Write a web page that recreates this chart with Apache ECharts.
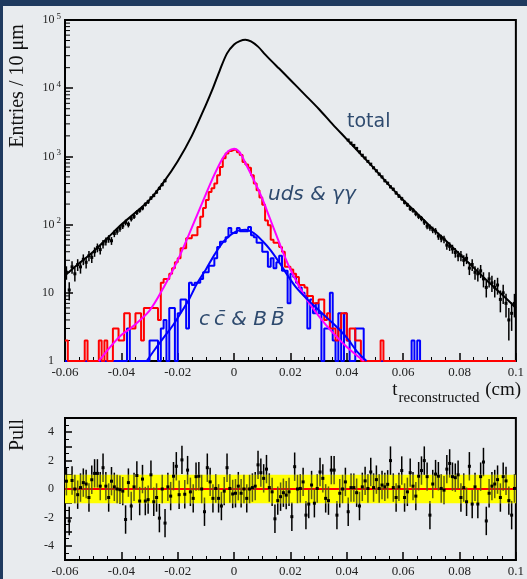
<!DOCTYPE html>
<html>
<head>
<meta charset="utf-8">
<script src="https://cdn.jsdelivr.net/npm/echarts@6/dist/echarts.min.js"></script>
<style>
html,body{margin:0;padding:0;background:#e8ebee;}
#frame{position:absolute;left:0;top:0;width:527px;height:579px;background:#e8ebee;border-top:6px solid #1f3a5f;border-left:3px solid #1f3a5f;box-sizing:border-box;}
#chart{position:absolute;left:0;top:0;width:527px;height:579px;}
</style>
</head>
<body>
<div id="frame"></div>
<div id="chart"></div>
<script>
// binning: 10 um bins from -0.06 to 0.1 cm
const X_MIN = -0.06, X_MAX = 0.1, BIN = 0.001;

// uds & gamma-gamma histogram (160 bins)
const udsCounts = [
  2,0,0,0,0,0,0,2,0,0,
  0,0,2,0,2,0,0,3,3,2,
  2,5,5,3,3,5,5,2,6,6,
  6,6,6,4,14,16,16,19,23,28,
  32,45,45,63,63,70,70,92,130,175,
  230,300,340,400,530,700,940,1100,1200,1250,
  1250,1150,1050,830,760,680,530,400,320,250,
  195,115,98,60,54,54,47,40,24,24,
  22,19,17,13,13,12,9,9,7,7,
  8,8,4,5,3,3,2,3,5,5,
  2,3,3,2,2,0,0,0,0,0,
  0,0,2,0,0,0,0,0,0,0,
  0,0,0,0,0,0,0,0,0,0,
  0,0,0,0,0,0,0,0,0,0,
  0,0,0,0,0,0,0,0,0,0,
  0,0,0,0,0,0,0,0,0,0
];

// c cbar & B Bbar histogram (160 bins)
const ccbbCounts = [
  0,0,0,0,0,0,0,0,0,0,
  0,0,0,0,0,0,0,0,0,0,
  0,0,3,0,0,0,0,0,0,0,
  2,2,2,0,3,4,0,6,6,0,
  5,8,8,3,14,13,14,14,16,20,
  20,25,25,32,47,56,56,65,89,75,
  75,89,80,80,80,92,70,65,54,54,
  40,40,24,32,23,28,35,21,21,7,
  19,17,14,12,10,9,3,8,5,7,
  5,0,3,3,10,2,0,5,0,5,
  2,0,0,3,3,3,0,0,0,0,
  0,0,0,0,0,0,0,0,0,0,
  0,0,0,2,0,2,0,0,0,0,
  0,0,0,0,0,0,0,0,0,0,
  0,0,0,0,0,0,0,0,0,0,
  0,0,0,0,0,0,0,0,0,0
];

// total data where it leaves the fit curve: bins 0-35 and 100-159
const totalLeftStart = 0;
const totalLeft = [
  20,11,24,19,26,24,31,28,35,33,
  40,46,43,52,57,62,58,74,80,88,
  96,108,101,122,132,150,162,175,198,216,
  245,268,300,340,385,440
];
const totalRightStart = 100;
const totalRight = [
  1740,1570,1450,1310,1170,1040,950,845,770,680,
  615,550,500,440,405,358,330,292,262,240,
  212,195,172,162,145,132,123,109,95,91,
  84,80,68,63,61,50,48,44,39,35,
  35,30,32,23,26,20,19,21,16,12,
  16,14,12,13,8,10,7,4,5,7
];

// fit curves [t, entries]
const totalFit = [
  [-0.06,18],[-0.055,27],[-0.05,40],[-0.045,63],[-0.04,100],[-0.035,150],[-0.03,230],
  [-0.025,420],[-0.02,850],[-0.015,2000],[-0.01,5700],[-0.0075,10000],[-0.005,18600],
  [-0.0025,32400],[0,43700],[0.002,49000],[0.004,51300],[0.006,48500],[0.0085,40700],
  [0.011,31400],[0.0135,24500],[0.016,19400],[0.02,13200],[0.025,8130],[0.03,5000],[0.035,2950],
  [0.04,1780],[0.045,1070],[0.05,646],[0.055,380],[0.06,229],[0.065,145],[0.07,91],
  [0.075,59],[0.08,37],[0.085,23.4],[0.09,14.8],[0.095,9.5],[0.1,6.0]
];
const udsFit = [
  [-0.048,1],[-0.044,1.6],[-0.04,2.4],[-0.036,3.2],[-0.03,5.5],[-0.025,12],[-0.02,30],
  [-0.015,90],[-0.01,280],[-0.007,540],[-0.004,950],[-0.002,1200],[0,1300],[0.002,1150],
  [0.004,800],[0.007,450],[0.01,240],[0.0125,130],[0.015,70],[0.0175,38],[0.02,22],
  [0.025,9],[0.03,4.6],[0.035,2.6],[0.04,1.6],[0.046,1]
];
const ccbbFit = [
  [-0.031,1],[-0.028,1.5],[-0.025,2.2],[-0.022,3.2],[-0.019,5],[-0.016,8],[-0.013,14],
  [-0.01,22],[-0.007,36],[-0.004,55],[-0.001,72],[0.002,83],[0.004,84],[0.007,75],
  [0.01,58],[0.013,42],[0.016,28],[0.019,18],[0.022,12],[0.026,8],[0.03,5.6],
  [0.035,3.6],[0.04,2.2],[0.0435,1.4],[0.047,1]
];

// pull per bin (160 bins)
const pulls = [
  0.55,-2.25,0.6,0.0,-0.4,0.1,0.45,0.35,-0.6,0.65,
  1.1,1.1,0.2,1.5,0.2,-0.6,0.55,0.15,0.0,-0.05,
  -0.15,-2.15,0.45,-1.2,0.15,0.95,-0.85,0.7,-0.85,-0.75,
  1.0,-0.9,-0.6,-2.05,0.0,-2.4,0.15,-0.5,0.9,1.6,
  -0.4,2.05,-0.37,1.33,-0.2,-0.66,0.87,0.9,0.0,-1.6,
  1.5,0.5,-0.66,0.04,-0.66,-1.2,-0.15,1.5,0.04,-0.35,
  -0.3,0.2,-0.3,0.0,-0.66,0.0,0.1,0.2,1.7,1.15,
  0.75,1.4,0.1,-0.2,-2.1,-0.82,-0.54,-0.26,-0.43,-0.2,
  -1.95,1.57,0.0,0.04,0.5,-1.84,-1.06,0.28,-1.0,0.04,
  1.2,0.75,-0.66,-0.82,1.33,1.33,-1.84,-0.3,0.0,0.5,
  -1.6,0.1,0.1,-0.26,-1.2,0.15,0.57,0.04,1.2,0.1,
  0.66,0.04,0.28,0.15,0.33,2.0,0.1,-0.6,0.15,1.3,
  -0.6,-0.2,1.15,0.2,-0.5,0.9,1.3,2.0,0.87,-1.84,
  0.35,1.05,0.9,0.04,-0.08,1.4,1.8,0.87,0.8,1.0,
  -0.6,0.1,-0.9,1.6,-1.06,0.15,-1.06,0.87,1.9,-2.25,
  -0.3,0.2,0.35,0.66,-0.6,0.87,0.57,-0.82,-1.84,0.04
];
const pullBand = [-1, 1];

const SERIF = '"Liberation Serif","DejaVu Serif",serif';
const SANS = '"DejaVu Sans","Open Sans",sans-serif';
const NOTE = '#2e4a6e';

// histogram as steps on bin edges, empty bins sit on the log axis floor
function stepData(counts) {
  const d = counts.map((c, i) => [X_MIN + i * BIN, Math.max(c, 1)]);
  d.push([X_MIN + counts.length * BIN, Math.max(counts[counts.length - 1], 1)]);
  return d;
}
function centers(vals, start) {
  return vals.map((v, i) => [X_MIN + (start + i + 0.5) * BIN, v]);
}
const totalPoints = centers(totalLeft, totalLeftStart).concat(centers(totalRight, totalRightStart));
const pullPoints = centers(pulls, 0);

// log minor ticks 2..9 per decade
const minorLog = [];
for (let d = 1; d < 100000; d *= 10) for (let m = 2; m <= 9; m++) minorLog.push([X_MIN, m * d]);

function errRender(params, api) {
  const x = api.value(0), y = api.value(1), e = Math.sqrt(y);
  const p0 = api.coord([x, Math.max(y - e, 1)]), p1 = api.coord([x, y + e]), c = api.coord([x, y]);
  return { type: 'group', children: [
    { type: 'line', shape: { x1: p0[0], y1: p0[1], x2: p1[0], y2: p1[1] }, style: { stroke: '#000', lineWidth: 1.5 } },
    { type: 'rect', shape: { x: c[0] - 1.5, y: c[1] - 1.5, width: 3, height: 3 }, style: { fill: '#000' } }
  ]};
}
function pullRender(params, api) {
  const x = api.value(0), v = api.value(1);
  const lo = v - 1, hi = v + 1, kids = [];
  const seg = (a, b, col) => {
    if (b <= a) return;
    const p = api.coord([x, a]), q = api.coord([x, b]);
    kids.push({ type: 'line', shape: { x1: p[0], y1: p[1], x2: q[0], y2: q[1] }, style: { stroke: col, lineWidth: 1.5 } });
  };
  seg(lo, Math.min(hi, pullBand[0]), '#000');
  seg(Math.max(lo, pullBand[0]), Math.min(hi, pullBand[1]), '#5e5e14');
  seg(Math.max(lo, pullBand[1]), hi, '#000');
  const c = api.coord([x, v]);
  kids.push({ type: 'rect', shape: { x: c[0] - 1.5, y: c[1] - 1.5, width: 3, height: 3 }, style: { fill: '#000' } });
  return { type: 'group', children: kids };
}

const xLabel = { fontFamily: SERIF, fontSize: 13, color: '#222', margin: 5,
  formatter: v => String(Math.round(v * 100) / 100) };
function xAxisOf(grid) {
  return {
    type: 'value', gridIndex: grid, min: X_MIN, max: X_MAX, interval: 0.02,
    axisLine: { onZero: false, lineStyle: { color: '#000', width: 2 } },
    axisTick: { inside: true, length: 8, lineStyle: { color: '#000', width: 1.5 } },
    minorTick: { show: true, splitNumber: 4, length: 4, lineStyle: { color: '#000', width: 1 } },
    splitLine: { show: false }, minorSplitLine: { show: false },
    axisLabel: xLabel
  };
}

const option = {
  animation: false,
  grid: [
    { left: 65, top: 20, width: 456, height: 341, show: true, borderColor: '#000', borderWidth: 2, backgroundColor: 'transparent' },
    { left: 65, top: 418, width: 456, height: 142, show: true, borderColor: '#000', borderWidth: 2, backgroundColor: 'transparent' }
  ],
  xAxis: [xAxisOf(0), xAxisOf(1)],
  yAxis: [
    {
      type: 'log', logBase: 10, gridIndex: 0, min: 1, max: 100000,
      axisLine: { show: true, onZero: false, lineStyle: { color: '#000', width: 2 } },
      axisTick: { inside: true, length: 8, lineStyle: { color: '#000', width: 1.5 } },
      splitLine: { show: false },
      axisLabel: {
        margin: 4, color: '#222',
        formatter: v => {
          const e = Math.round(Math.log10(v));
          if (e === 0) return '{b|1}{p| }';
          if (e === 1) return '{b|10}{p| }';
          return '{b|10}{s|' + e + '}';
        },
        rich: {
          b: { fontFamily: SERIF, fontSize: 12, lineHeight: 16, color: '#222' },
          s: { fontFamily: SERIF, fontSize: 9, lineHeight: 9, verticalAlign: 'top', padding: [0, 0, 0, 2], color: '#222' },
          p: { width: 7, fontSize: 9 }
        }
      }
    },
    {
      type: 'value', gridIndex: 1, min: -5, max: 5, interval: 1,
      axisLine: { show: true, onZero: false, lineStyle: { color: '#000', width: 2 } },
      axisTick: { inside: true, length: 7, lineStyle: { color: '#000', width: 1.5 } },
      minorTick: { show: true, splitNumber: 2, length: 4, lineStyle: { color: '#000', width: 1 } },
      splitLine: { show: false }, minorSplitLine: { show: false },
      axisLabel: { margin: 11, fontFamily: SERIF, fontSize: 12, color: '#222',
        formatter: v => (v % 2 === 0 && Math.abs(v) < 5) ? String(v) : '' }
    }
  ],
  series: [
    { type: 'custom', xAxisIndex: 0, yAxisIndex: 0, silent: true, data: minorLog, clip: true,
      renderItem: (p, api) => {
        const c = api.coord([api.value(0), api.value(1)]);
        return { type: 'line', shape: { x1: c[0], y1: c[1], x2: c[0] + 5, y2: c[1] }, style: { stroke: '#000', lineWidth: 1 } };
      } },
    { name: 'cc', type: 'line', xAxisIndex: 0, yAxisIndex: 0, step: 'end', showSymbol: false,
      data: stepData(ccbbCounts), lineStyle: { color: '#0000ff', width: 2 } },
    { name: 'uds', type: 'line', xAxisIndex: 0, yAxisIndex: 0, step: 'end', showSymbol: false,
      data: stepData(udsCounts), lineStyle: { color: '#ff0000', width: 2 } },
    { name: 'udsFit', type: 'line', xAxisIndex: 0, yAxisIndex: 0, smooth: 0.3, showSymbol: false,
      data: udsFit, lineStyle: { color: '#ff00ff', width: 2 } },
    { name: 'ccFit', type: 'line', xAxisIndex: 0, yAxisIndex: 0, smooth: 0.3, showSymbol: false,
      data: ccbbFit, lineStyle: { color: '#0000ff', width: 2 } },
    { name: 'total', type: 'custom', xAxisIndex: 0, yAxisIndex: 0, data: totalPoints, clip: true, renderItem: errRender },
    { name: 'totalFit', type: 'line', xAxisIndex: 0, yAxisIndex: 0, smooth: 0.3, showSymbol: false,
      data: totalFit, lineStyle: { color: '#000', width: 2 } },
    // pull panel
    { type: 'custom', xAxisIndex: 1, yAxisIndex: 1, silent: true, data: [[0, 0]],
      renderItem: (p, api) => {
        const a = api.coord([X_MIN, pullBand[1]]), b = api.coord([X_MAX, pullBand[0]]);
        return { type: 'rect', shape: { x: a[0], y: a[1], width: b[0] - a[0], height: b[1] - a[1] }, style: { fill: '#ffff00' } };
      } },
    { type: 'custom', xAxisIndex: 1, yAxisIndex: 1, silent: true, data: [[0, 0]],
      renderItem: (p, api) => {
        const a = api.coord([X_MIN, 0]), b = api.coord([X_MAX, 0]);
        return { type: 'line', shape: { x1: a[0], y1: a[1], x2: b[0], y2: b[1] }, style: { stroke: '#ff0000', lineWidth: 2 } };
      } },
    { name: 'pull', type: 'custom', xAxisIndex: 1, yAxisIndex: 1, data: pullPoints, clip: true, renderItem: pullRender }
  ],
  graphic: [
    { type: 'text', x: 18, y: 86, rotation: Math.PI / 2,
      style: { text: 'Entries / 10 μm', fontFamily: SERIF, fontSize: 20, fill: '#111', align: 'center', verticalAlign: 'middle' } },
    { type: 'text', x: 18, y: 435, rotation: Math.PI / 2,
      style: { text: 'Pull', fontFamily: SERIF, fontSize: 20, fill: '#111', align: 'center', verticalAlign: 'middle' } },
    { type: 'text', x: 521, y: 381,
      style: { text: '{m|t}{s|reconstructed}{m| (cm)}', align: 'right', verticalAlign: 'top',
        rich: {
          m: { fontFamily: SERIF, fontSize: 19, lineHeight: 22, verticalAlign: 'top', fill: '#111' },
          s: { fontFamily: SERIF, fontSize: 15, lineHeight: 15, padding: [12, 1, 0, 1], fill: '#111' }
        } } },
    { type: 'text', x: 347, y: 122,
      style: { text: 'total', fontFamily: SANS, fontSize: 19, fill: NOTE, align: 'left', verticalAlign: 'middle' } },
    { type: 'text', x: 268, y: 195,
      style: { text: 'uds & γγ', fontFamily: SANS, fontStyle: 'italic', fontSize: 20, fill: NOTE, align: 'left', verticalAlign: 'middle' } },
    { type: 'text', x: 199, y: 320,
      style: { text: 'c\u2009c\u0304 & B\u2009B\u0304', fontFamily: SANS, fontStyle: 'italic', fontSize: 20, fill: NOTE, align: 'left', verticalAlign: 'middle' } }
  ]
};

const chart = echarts.init(document.getElementById('chart'), null, { renderer: 'canvas' });
chart.setOption(option);
</script>
</body>
</html>
